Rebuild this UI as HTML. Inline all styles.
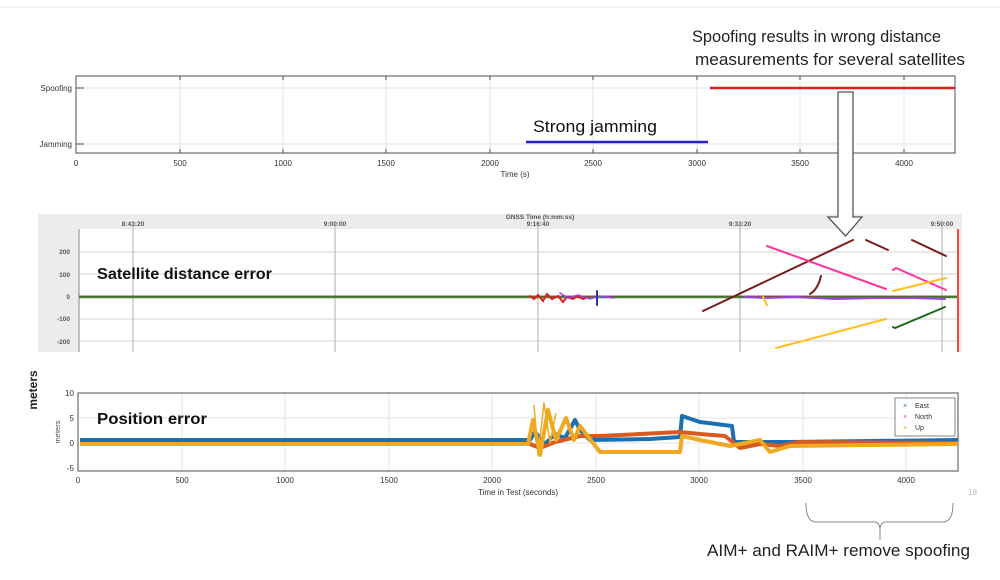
<!DOCTYPE html>
<html><head><meta charset="utf-8"><style>
html,body{margin:0;padding:0;background:#fff;}
svg{display:block;font-family:"Liberation Sans",sans-serif;}
</style></head><body>
<svg width="1000" height="580" viewBox="0 0 1000 580" xmlns="http://www.w3.org/2000/svg">
<line x1="0" y1="7" x2="1000" y2="7" stroke="#e6e6e6" stroke-width="1"/>
<!-- Top annotation -->
<text x="692" y="42" font-size="16.3" fill="#222" textLength="249" lengthAdjust="spacingAndGlyphs">Spoofing results in wrong distance</text>
<text x="695" y="65" font-size="16.3" fill="#222" textLength="270" lengthAdjust="spacingAndGlyphs">measurements for several satellites</text>

<!-- Top plot -->
<g stroke="#e3e3e3" stroke-width="1">
<line x1="76" y1="88" x2="955" y2="88"/><line x1="76" y1="144" x2="955" y2="144"/>
<line x1="180" y1="76" x2="180" y2="153"/><line x1="283" y1="76" x2="283" y2="153"/>
<line x1="386" y1="76" x2="386" y2="153"/><line x1="490" y1="76" x2="490" y2="153"/>
<line x1="593" y1="76" x2="593" y2="153"/><line x1="697" y1="76" x2="697" y2="153"/>
<line x1="800" y1="76" x2="800" y2="153"/><line x1="904" y1="76" x2="904" y2="153"/>
</g>
<rect x="76" y="76" width="879" height="77" fill="none" stroke="#777" stroke-width="1.3"/>
<g stroke="#666" stroke-width="1.2">
<line x1="180" y1="76" x2="180" y2="80"/><line x1="283" y1="76" x2="283" y2="80"/><line x1="386" y1="76" x2="386" y2="80"/><line x1="490" y1="76" x2="490" y2="80"/><line x1="593" y1="76" x2="593" y2="80"/><line x1="697" y1="76" x2="697" y2="80"/><line x1="800" y1="76" x2="800" y2="80"/><line x1="904" y1="76" x2="904" y2="80"/>
<line x1="180" y1="153" x2="180" y2="149"/><line x1="283" y1="153" x2="283" y2="149"/><line x1="386" y1="153" x2="386" y2="149"/><line x1="490" y1="153" x2="490" y2="149"/><line x1="593" y1="153" x2="593" y2="149"/><line x1="697" y1="153" x2="697" y2="149"/><line x1="800" y1="153" x2="800" y2="149"/><line x1="904" y1="153" x2="904" y2="149"/>
<line x1="76" y1="88" x2="84" y2="88"/><line x1="76" y1="144" x2="84" y2="144"/>
</g>
<g font-size="8" fill="#333" text-anchor="end"><text x="72" y="91">Spoofing</text><text x="72" y="147">Jamming</text></g>
<g font-size="8" fill="#333" text-anchor="middle">
<text x="76" y="166">0</text><text x="180" y="166">500</text><text x="283" y="166">1000</text><text x="386" y="166">1500</text><text x="490" y="166">2000</text><text x="593" y="166">2500</text><text x="697" y="166">3000</text><text x="800" y="166">3500</text><text x="904" y="166">4000</text>
<text x="515" y="177">Time (s)</text></g>
<line x1="710" y1="88" x2="955" y2="88" stroke="#d62020" stroke-width="2.5"/>
<line x1="526" y1="142" x2="708" y2="142" stroke="#2222cc" stroke-width="2.5"/>
<text x="533" y="132" font-size="17" fill="#111" textLength="124" lengthAdjust="spacingAndGlyphs">Strong jamming</text>

<!-- Middle plot -->
<rect x="38" y="214" width="924" height="138" fill="#ececec"/>
<rect x="79" y="229" width="879" height="123" fill="#fff"/>
<g stroke="#d0d0d0" stroke-width="1">
<line x1="79" y1="252" x2="958" y2="252"/><line x1="79" y1="274" x2="958" y2="274"/><line x1="79" y1="319" x2="958" y2="319"/><line x1="79" y1="341" x2="958" y2="341"/>
</g>
<g stroke="#c0c0c0" stroke-width="1.3">
<line x1="133" y1="226" x2="133" y2="352"/><line x1="335" y1="226" x2="335" y2="352"/><line x1="538" y1="226" x2="538" y2="352"/><line x1="740" y1="226" x2="740" y2="352"/><line x1="942" y1="226" x2="942" y2="352"/>
</g>
<line x1="79" y1="229" x2="79" y2="352" stroke="#888"/>
<g font-size="6.5" fill="#555" font-weight="bold" text-anchor="middle">
<text x="133" y="226">8:43:20</text><text x="335" y="226">9:00:00</text><text x="538" y="226">9:16:40</text><text x="740" y="226">9:33:20</text><text x="942" y="226">9:50:00</text>
<text x="540" y="219">GNSS Time (h:mm:ss)</text></g>
<g font-size="6.5" fill="#555" font-weight="bold" text-anchor="end">
<text x="70" y="254">200</text><text x="70" y="277">100</text><text x="70" y="299">0</text><text x="70" y="321">-100</text><text x="70" y="344">-200</text></g>
<line x1="79" y1="297" x2="958" y2="297" stroke="#3a8a3a" stroke-width="2.5"/>
<line x1="79" y1="296" x2="958" y2="296" stroke="#8a2222" stroke-width="1" opacity="0.6"/>
<g stroke-width="2" fill="none" stroke-linecap="round">
<path d="M530 296 l4 3 l4 -4 l5 6 l4 -7 l5 5 l6 -3 l5 6 l4 -5 l6 2 l4 -3 l6 3 l5 -2" stroke="#e02020"/>
<path d="M560 293 l8 5 l10 -3 l12 4 l10 -3 l14 2" stroke="#a040e0" stroke-width="1.5"/>
<line x1="597" y1="291" x2="597" y2="305" stroke="#3030b0"/>
<path d="M745 297 l20 1 l30 -1 l40 2 l40 -1 l40 0 l30 1" stroke="#a040e0" stroke-width="2"/>
<line x1="703" y1="311" x2="853" y2="240" stroke="#7a1a1a"/>
<line x1="866" y1="240" x2="888" y2="250" stroke="#7a1a1a"/>
<line x1="912" y1="240" x2="946" y2="256" stroke="#7a1a1a"/>
<path d="M810 294 q8 -5 11 -18" stroke="#7a1a1a"/>
<line x1="767" y1="246" x2="886" y2="289" stroke="#ff3399"/>
<path d="M893 270 l3 -2 l50 22" stroke="#ff3399"/>
<line x1="893" y1="291" x2="946" y2="278" stroke="#ffc020"/>
<line x1="776" y1="348" x2="886" y2="319" stroke="#ffc020"/>
<path d="M763 297 l4 8" stroke="#ffc020"/>
<path d="M893 327 l2 1 l50 -21" stroke="#1a6a1a"/>
</g>
<line x1="958" y1="229" x2="958" y2="352" stroke="#ff4444" stroke-width="2"/>
<text x="97" y="279" font-size="16" font-weight="bold" fill="#111" textLength="175" lengthAdjust="spacingAndGlyphs">Satellite distance error</text>

<!-- Arrow -->
<path d="M838 92 H853 V217 H862 L845.5 236 L828 217 H838 Z" fill="#fff" stroke="#555" stroke-width="1.3"/>

<!-- Bottom plot -->
<text transform="translate(37,390) rotate(-90)" font-size="12" font-weight="bold" fill="#222" text-anchor="middle">meters</text>
<g stroke="#e3e3e3"><line x1="78" y1="418" x2="958" y2="418"/><line x1="78" y1="443" x2="958" y2="443"/>
<line x1="182" y1="393" x2="182" y2="471"/><line x1="285" y1="393" x2="285" y2="471"/><line x1="389" y1="393" x2="389" y2="471"/><line x1="492" y1="393" x2="492" y2="471"/><line x1="596" y1="393" x2="596" y2="471"/><line x1="699" y1="393" x2="699" y2="471"/><line x1="803" y1="393" x2="803" y2="471"/><line x1="906" y1="393" x2="906" y2="471"/></g>
<rect x="78" y="393" width="880" height="78" fill="none" stroke="#777" stroke-width="1.3"/>
<g font-size="8" fill="#333" text-anchor="end"><text x="74" y="396">10</text><text x="74" y="421">5</text><text x="74" y="446">0</text><text x="74" y="471">-5</text></g>
<text transform="translate(60,432) rotate(-90)" font-size="7.5" fill="#555" text-anchor="middle">meters</text>
<g font-size="8" fill="#333" text-anchor="middle">
<text x="78" y="483">0</text><text x="182" y="483">500</text><text x="285" y="483">1000</text><text x="389" y="483">1500</text><text x="492" y="483">2000</text><text x="596" y="483">2500</text><text x="699" y="483">3000</text><text x="803" y="483">3500</text><text x="906" y="483">4000</text>
<text x="518" y="495">Time in Test (seconds)</text></g>
<g fill="none" stroke-linejoin="round">
<path d="M80 440 L530 440 L535 432 L545 444 L555 434 L565 438 L575 420 L580 430 L590 440 L650 439 L680 437 L682 416 L700 422 L732 426 L734 442 L790 442 L958 440" stroke="#1a70b0" stroke-width="4"/>
<path d="M80 444 L530 444 L540 448 L555 442 L580 436 L600 436 L680 432 L700 434 L725 436 L740 448 L760 444 L780 446 L800 442 L958 443" stroke="#d85a20" stroke-width="4"/>
<path d="M80 444 L528 444 L533 420 L540 455 L548 410 L556 440 L566 418 L574 440 L580 426 L600 452 L680 452 L682 436 L700 440 L730 446 L760 440 L770 452 L790 446 L958 444" stroke="#f0a820" stroke-width="4"/>
<path d="M534 405 l4 50 l6 -52 l6 40 l6 -30" stroke="#f0a820" stroke-width="1.5"/>
</g>
<text x="97" y="424" font-size="16" font-weight="bold" fill="#111" textLength="110" lengthAdjust="spacingAndGlyphs">Position error</text>
<rect x="895" y="398" width="60" height="38" fill="#fff" stroke="#666" stroke-width="0.8"/>
<g font-size="7" fill="#333"><text x="915" y="408">East</text><text x="915" y="419">North</text><text x="915" y="430">Up</text>
<text x="903" y="408" fill="#1a70b0">×</text><text x="903" y="419" fill="#d85a20">×</text><text x="903" y="430" fill="#f0a820">×</text></g>
<text x="968" y="495" font-size="8" fill="#bbb">18</text>

<!-- Brace -->
<path d="M806 503 Q806 522 816 522 H874 Q880 522 880 530 V540 M880 530 Q880 522 886 522 H943 Q953 522 953 503" fill="none" stroke="#888" stroke-width="1"/>
<text x="707" y="556" font-size="16.5" fill="#222" textLength="263" lengthAdjust="spacingAndGlyphs">AIM+ and RAIM+ remove spoofing</text>
</svg>
</body></html>
